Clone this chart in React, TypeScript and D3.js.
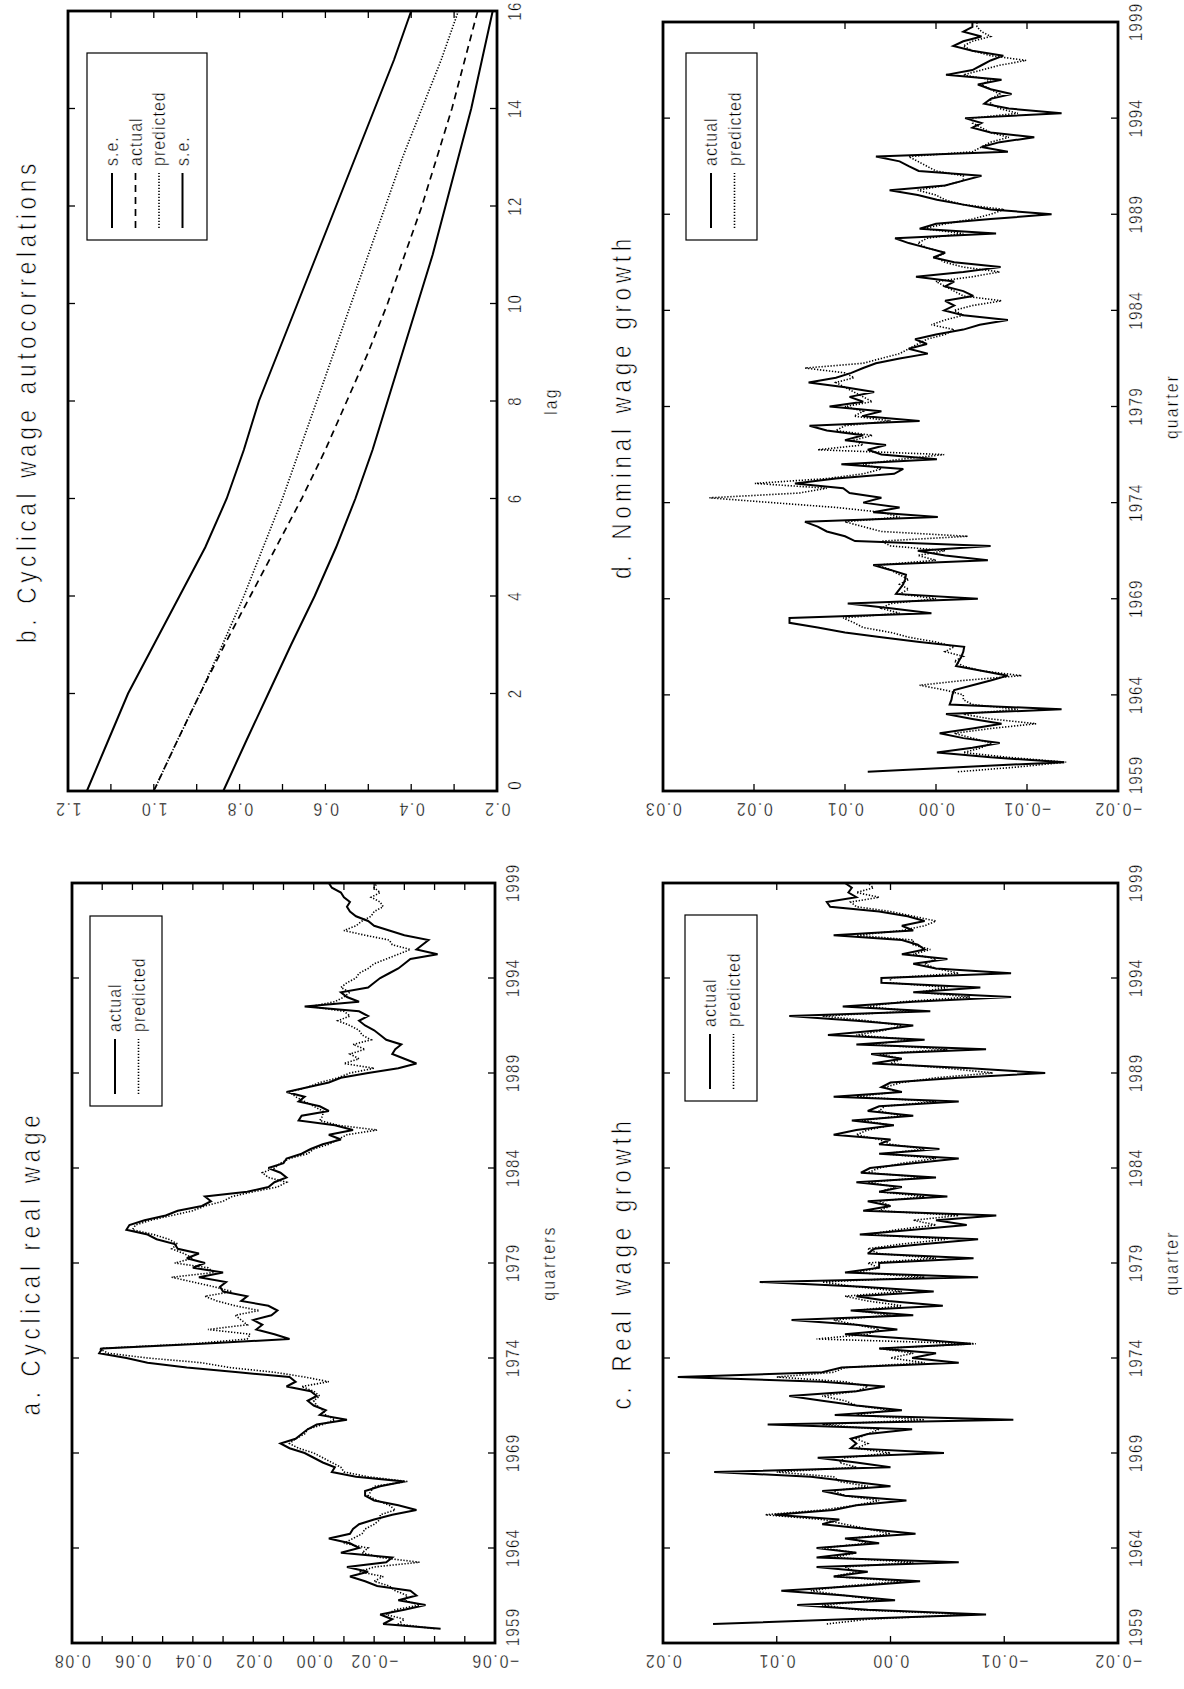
import React from "react";
import * as d3 from "d3";

// ---------- data ----------
// a. cyclical real wage, quarterly from 1959.75
const aActual = [
  -0.042,
  -0.023, -0.026, -0.022, -0.03,
  -0.037, -0.028, -0.034, -0.032,
  -0.021, -0.017, -0.012, -0.018,
  -0.011, -0.024, -0.026, -0.009,
  -0.015, -0.012, -0.005, -0.012,
  -0.013, -0.015, -0.02, -0.026,
  -0.034, -0.028, -0.02, -0.017,
  -0.017, -0.022, -0.03, -0.014,
  -0.006, -0.007, -0.003, 0.0,
  0.003, 0.008, 0.011, 0.006,
  0.004, 0.002, -0.001, -0.011,
  -0.002, -0.004, 0.0, 0.002,
  -0.001, 0.001, 0.009, 0.006,
  0.008, 0.025, 0.042, 0.055,
  0.062, 0.071, 0.07, 0.037,
  0.008, 0.013, 0.019, 0.017,
  0.02, 0.014, 0.012, 0.015,
  0.024, 0.022, 0.03, 0.031,
  0.029, 0.038, 0.03, 0.04,
  0.036, 0.042, 0.038, 0.045,
  0.046, 0.052, 0.055, 0.062,
  0.061, 0.056, 0.049, 0.045,
  0.037, 0.034, 0.036, 0.022,
  0.015, 0.013, 0.009, 0.011,
  0.015, 0.01, 0.009, 0.004,
  0.001, -0.003, -0.009, -0.005,
  -0.013, -0.007, 0.005, 0.004,
  -0.005, -0.002, 0.005, 0.003,
  0.009, 0.002, -0.005, -0.009,
  -0.018, -0.028, -0.034, -0.03,
  -0.026, -0.027, -0.029, -0.024,
  -0.022, -0.02, -0.017, -0.015,
  -0.018, -0.015, 0.003, -0.015,
  -0.011, -0.009, -0.018, -0.02,
  -0.022, -0.025, -0.028, -0.03,
  -0.032, -0.041, -0.034, -0.036,
  -0.038, -0.03, -0.025, -0.02,
  -0.018, -0.014, -0.012, -0.011,
  -0.012, -0.01, -0.009, -0.006,
  -0.005,
];
const aPredicted = [
  -0.04,
  -0.028, -0.03, -0.024, -0.027,
  -0.035, -0.03, -0.031, -0.027,
  -0.025, -0.02, -0.023, -0.015,
  -0.02, -0.035, -0.022, -0.016,
  -0.018, -0.01, -0.013, -0.016,
  -0.017, -0.02, -0.022, -0.022,
  -0.027, -0.025, -0.021, -0.018,
  -0.019, -0.02, -0.031, -0.018,
  -0.01, -0.009, -0.006, -0.003,
  0.0, 0.005, 0.008, 0.006,
  0.003, 0.002, -0.003, -0.007,
  -0.004, -0.003, -0.001, 0.0,
  -0.002, 0.0, 0.004, -0.005,
  0.003, 0.013, 0.028, 0.037,
  0.055, 0.068, 0.071, 0.04,
  0.022, 0.021, 0.035, 0.022,
  0.024, 0.026, 0.018, 0.026,
  0.032, 0.036, 0.027, 0.033,
  0.04, 0.047, 0.033, 0.035,
  0.046, 0.04, 0.043, 0.047,
  0.045, 0.048, 0.053, 0.06,
  0.059, 0.054, 0.047, 0.04,
  0.036, 0.03, 0.027, 0.02,
  0.012, 0.009, 0.015, 0.017,
  0.013, 0.011, 0.008, 0.002,
  0.0, -0.005, -0.008, -0.011,
  -0.021, -0.008, -0.002, -0.003,
  -0.003, 0.0, 0.003, 0.006,
  0.008, 0.002, -0.002, -0.008,
  -0.012, -0.02, -0.01, -0.015,
  -0.012, -0.017, -0.013, -0.019,
  -0.016, -0.015, -0.012, -0.008,
  -0.012, -0.01, 0.001, -0.007,
  -0.01, -0.012, -0.009, -0.011,
  -0.014, -0.015, -0.018, -0.02,
  -0.024, -0.028, -0.032, -0.026,
  -0.025, -0.017, -0.01, -0.014,
  -0.016, -0.019, -0.02, -0.023,
  -0.022, -0.019, -0.022, -0.02,
  -0.021,
];

// c. real wage growth, quarterly from 1960.0
const cActual = [
  0.0156, 0.004, -0.0084, 0.002,
  0.0082, -0.0004, 0.004, 0.0096,
  0.003, -0.0026, 0.005, 0.002,
  0.0065, -0.006, 0.0065, 0.003,
  0.0065, 0.001, 0.004, -0.0022,
  0.002, 0.006, 0.0045, 0.0102,
  0.005, 0.003, -0.0014, 0.004,
  0.006, 0.0, 0.0035, 0.007,
  0.0155, 0.0, 0.003, 0.0064,
  -0.0047, 0.0035, 0.003, 0.0035,
  0.002, -0.0019, 0.0108, -0.0108,
  0.0049, -0.001, 0.003, 0.006,
  0.0089, 0.003, 0.0005, 0.006,
  0.0187, 0.006, 0.0043, -0.006,
  -0.0019, -0.004, 0.001, -0.0071,
  -0.002, 0.004, -0.0006, 0.003,
  0.0087, -0.002, 0.0035, -0.0046,
  0.0002, 0.003, -0.0038, 0.0025,
  0.0115, -0.0077, 0.004, 0.001,
  0.001, -0.0073, 0.002, 0.0014,
  -0.003, -0.0077, 0.0027, -0.002,
  -0.0067, -0.004, -0.0093, 0.0024,
  0.0, 0.002, -0.005, 0.001,
  -0.001, 0.003, -0.004, 0.0026,
  0.0018, -0.002, -0.006, 0.001,
  -0.0043, 0.001, 0.0, 0.005,
  0.003, -0.0003, 0.0034, -0.002,
  0.002, 0.001, -0.006, 0.005,
  -0.001, 0.0008, 0.0, -0.006,
  -0.0136, -0.007, 0.0016, -0.001,
  0.0017, -0.0084, 0.003, -0.003,
  0.0055, 0.001, -0.002, 0.003,
  0.0089, -0.0035, 0.0042, -0.002,
  -0.0106, -0.002, -0.0079, 0.0008,
  0.0008, -0.0106, -0.004, -0.002,
  -0.005, -0.001, -0.003, -0.0024,
  -0.001, 0.005, -0.002, -0.001,
  -0.003, -0.0015, 0.001, 0.0053,
  0.0056, 0.003, 0.0037, 0.0034,
  0.004,
];
const cPredicted = [
  0.0056, 0.002, -0.007, 0.003,
  0.006, 0.001, 0.004, 0.007,
  0.004, -0.001, 0.005, 0.003,
  0.004, -0.002, 0.005, 0.003,
  0.006, 0.002, 0.0035, 0.0,
  0.002, 0.004, 0.006, 0.011,
  0.006, 0.003, 0.001, 0.004,
  0.005, 0.002, 0.0045, 0.005,
  0.01, 0.003, 0.0045, 0.004,
  0.0, 0.003, 0.002, 0.003,
  0.002, 0.001, 0.006, -0.003,
  0.003, 0.0, 0.003, 0.004,
  0.006, 0.003, 0.002, 0.004,
  0.01, 0.005, 0.004, -0.003,
  0.0, -0.002, 0.001, -0.0075,
  0.0065, 0.002, 0.001, 0.003,
  0.005, 0.0, 0.003, -0.001,
  0.002, 0.004, -0.001, 0.003,
  0.006, -0.003, 0.003, 0.001,
  0.002, -0.004, 0.001, 0.002,
  -0.001, -0.005, 0.002, -0.0005,
  -0.004, -0.002, -0.006, 0.001,
  0.0, 0.001, -0.003, 0.001,
  -0.0005, 0.002, -0.003, 0.002,
  0.001, -0.001, -0.004, 0.0005,
  -0.003, 0.0, 0.001, 0.003,
  0.002, 0.0, 0.0025, -0.001,
  0.001, 0.0005, -0.004, 0.003,
  -0.0005, 0.0005, -0.001, -0.004,
  -0.009, -0.005, 0.0, -0.001,
  0.001, -0.005, 0.002, -0.002,
  0.003, 0.0005, -0.001, 0.002,
  0.006, -0.002, 0.002, -0.001,
  -0.007, -0.0025, -0.005, 0.0,
  0.0, -0.006, -0.004, -0.003,
  -0.004, -0.002, -0.0035, -0.002,
  -0.002, 0.003, -0.001, -0.003,
  -0.004, -0.002, 0.0, 0.003,
  0.0035, 0.001, 0.003, 0.0015,
  0.002,
];

// d. nominal wage growth, quarterly from 1960.0
const dActual = [
  0.0075, -0.003, -0.0141, -0.006,
  -0.0001, -0.004, -0.007, -0.003,
  -0.0004, -0.004, -0.0072, -0.004,
  -0.0011, -0.0138, -0.0015, -0.0017,
  -0.0018, -0.002, -0.004, -0.006,
  -0.0079, -0.005, -0.0022, -0.0025,
  -0.0028, -0.003, -0.0031, 0.0018,
  0.006, 0.01, 0.013, 0.0161,
  0.0161, 0.0005, 0.005, 0.0097,
  -0.0046, 0.0044, 0.004, 0.0036,
  0.0034, 0.0033, 0.005, 0.0069,
  -0.0057, -0.001, 0.002, -0.006,
  0.0089, 0.01, 0.012, 0.013,
  0.0144, -0.0002, 0.0069, 0.004,
  0.008, 0.006, 0.0095, 0.0102,
  0.0155, 0.011, 0.0046, 0.0036,
  0.0104, -0.0001, 0.006, 0.0075,
  0.0055, 0.01, 0.008, 0.012,
  0.0139, 0.0018, 0.0081, 0.006,
  0.0117, 0.008, 0.0095, 0.0068,
  0.01, 0.014, 0.011, 0.0093,
  0.008, 0.0066, 0.004, 0.0009,
  0.003, 0.001, 0.0023, 0.0,
  -0.003, -0.0048, -0.0079, -0.003,
  -0.0009, -0.002, -0.001, -0.0041,
  -0.003, -0.001, -0.002, 0.0022,
  -0.003, -0.0071, -0.002, 0.0003,
  -0.001, 0.001, 0.003, 0.0045,
  -0.0066, 0.0018, 0.0, -0.006,
  -0.0127, -0.006, -0.003, -0.0001,
  0.002, 0.0051, -0.001, -0.003,
  -0.005, 0.0019, 0.003, 0.004,
  0.0066, -0.0079, -0.005, -0.007,
  -0.0108, -0.006, -0.004, -0.005,
  -0.0032, -0.0138, -0.008, -0.0053,
  -0.006, -0.0083, -0.006, -0.0046,
  -0.0072, -0.0011, -0.004, -0.005,
  -0.006, -0.0074, -0.004, -0.0019,
  -0.003, -0.005, -0.003, -0.004,
  -0.004,
];
const dPredicted = [
  -0.0024, -0.009, -0.0143, -0.008,
  -0.003, -0.005, -0.006, -0.004,
  -0.002, -0.006, -0.011, -0.006,
  -0.003, -0.009, -0.004, -0.003,
  -0.003, -0.001, 0.0018, -0.003,
  -0.0094, -0.005, -0.003, -0.002,
  -0.003, -0.001, -0.002, 0.0,
  0.003, 0.005, 0.008, 0.009,
  0.0102, 0.004, 0.006, 0.005,
  0.0, 0.004, 0.003, 0.004,
  0.003, 0.004, 0.005, 0.0064,
  0.0, 0.002, -0.001, 0.005,
  0.006, -0.0035, 0.006, 0.008,
  0.01, 0.004, 0.006, 0.011,
  0.018, 0.0249, 0.015, 0.012,
  0.0199, 0.012, 0.008, 0.006,
  0.008, 0.004, -0.0009, 0.013,
  0.008, 0.009, 0.007, 0.011,
  0.01, 0.005, 0.009, 0.008,
  0.01, 0.007, 0.008, 0.009,
  0.01, 0.011, 0.009, 0.01,
  0.0144, 0.008, 0.006, 0.004,
  0.003, 0.002, 0.001, -0.001,
  -0.002, 0.0005, -0.001, -0.003,
  -0.002, -0.004, -0.0072, -0.003,
  -0.002, -0.001, 0.0, -0.004,
  -0.007, -0.003, -0.001, 0.0,
  -0.001, 0.001, 0.002, 0.001,
  -0.003, 0.0014, -0.001, -0.004,
  -0.006, -0.0075, -0.003, -0.001,
  0.0, 0.002, -0.001, -0.003,
  -0.003, 0.0, 0.001, 0.002,
  0.003, -0.004, -0.005, -0.006,
  -0.008, -0.006, -0.005, -0.004,
  -0.004, -0.009, -0.007, -0.006,
  -0.006, -0.007, -0.006, -0.005,
  -0.006, -0.003, -0.005, -0.007,
  -0.0099, -0.006, -0.004, -0.003,
  -0.004, -0.006, -0.005, -0.0045,
  -0.0045,
];

// b. autocorrelations by lag 0..16
const lags = d3.range(0, 17);
const acfUpperSE = [1.156, 1.108, 1.06, 1.0, 0.94, 0.88, 0.83, 0.79, 0.755, 0.71, 0.665, 0.62, 0.575, 0.53, 0.485, 0.44, 0.4];
const acfActual = [1.0, 0.947, 0.892, 0.835, 0.775, 0.715, 0.655, 0.6, 0.55, 0.5, 0.455, 0.415, 0.375, 0.34, 0.305, 0.275, 0.245];
const acfPredicted = [1.0, 0.947, 0.892, 0.84, 0.79, 0.745, 0.7, 0.66, 0.62, 0.58, 0.54, 0.5, 0.46, 0.42, 0.375, 0.33, 0.29];
const acfLowerSE = [0.838, 0.786, 0.733, 0.68, 0.625, 0.575, 0.53, 0.49, 0.455, 0.42, 0.385, 0.35, 0.32, 0.29, 0.26, 0.235, 0.21];

const yearTicks = d3.range(1959, 2000, 5);
const lagTicks = d3.range(0, 17, 2);

// ---------- drawing ----------
const FONT = "'Liberation Sans', 'DejaVu Sans', Arial, sans-serif";
const INK = "#000";

type Kind = "solid" | "dashed" | "dotted";
const STROKE: Record<Kind, { w: number; dash?: string }> = {
  solid: { w: 2 },
  dashed: { w: 1.7, dash: "7 5" },
  dotted: { w: 1.6, dash: "1.3 1.7" },
};

const quarterly = (start: number, vals: number[]): [number, number][] =>
  vals.map((v, i) => [start + i * 0.25, v]);

// rotated text; a thin white outline keeps the glyphs light like the plotter font
function Txt({ x, y, rot, size, ls = 0, sx = 0.84, anchor = "middle", thin = 0.4, children }: any) {
  return (
    <text
      transform={`translate(${x},${y}) rotate(${rot}) scale(${sx},1)`}
      textAnchor={anchor}
      dominantBaseline="central"
      fontFamily={FONT}
      fontSize={size}
      letterSpacing={ls}
      fill={INK}
      stroke="#fff"
      strokeWidth={thin}
    >
      {children}
    </text>
  );
}

type Box = { x0: number; y0: number; x1: number; y1: number };

function Panel(p: {
  box: Box;
  vDomain: [number, number];
  vTicks: number[];
  vLabels: number[];
  vFmt: (n: number) => string;
  tDomain: [number, number];
  tTicks: number[];
  tFmt: (n: number) => string;
  firstShift: number;
  series: { pts: [number, number][]; kind: Kind }[];
  title: string;
  axisLabel: string;
  legend: { box: Box; entries: { label: string; kind: Kind }[] };
}) {
  const { x0, y0, x1, y1 } = p.box;
  const xs = d3.scaleLinear().domain(p.vDomain).range([x0, x1]);
  const ys = d3.scaleLinear().domain(p.tDomain).range([y1, y0]);
  const line = d3
    .line<[number, number]>()
    .x((d) => xs(d[1]))
    .y((d) => ys(d[0]));
  const tl = 7;
  const cy = (y0 + y1) / 2;
  const lg = p.legend.box;
  return (
    <g>
      {p.series.map((s, i) => (
        <path
          key={i}
          d={line(s.pts) || ""}
          fill="none"
          stroke={INK}
          strokeWidth={STROKE[s.kind].w}
          strokeDasharray={STROKE[s.kind].dash}
          strokeLinejoin="miter"
          strokeMiterlimit={3}
        />
      ))}
      {p.vTicks.map((v, i) => (
        <g key={"v" + i} stroke={INK} strokeWidth={1.3}>
          <line x1={xs(v)} x2={xs(v)} y1={y0} y2={y0 + tl} />
          <line x1={xs(v)} x2={xs(v)} y1={y1} y2={y1 - tl} />
        </g>
      ))}
      {p.tTicks.map((t, i) => (
        <g key={"t" + i} stroke={INK} strokeWidth={1.3}>
          <line x1={x0} x2={x0 + tl} y1={ys(t)} y2={ys(t)} />
          <line x1={x1} x2={x1 - tl} y1={ys(t)} y2={ys(t)} />
        </g>
      ))}
      <rect x={x0} y={y0} width={x1 - x0} height={y1 - y0} fill="none" stroke={INK} strokeWidth={2.8} />
      {p.vLabels.map((v, i) => (
        <Txt key={"vl" + i} x={xs(v)} y={y1 + 18} rot={180} size={19} ls={2}>
          {p.vFmt(v)}
        </Txt>
      ))}
      {p.tTicks.map((t, i) => (
        <Txt key={"tl" + i} x={x1 + 18} y={ys(t) - (i === 0 ? p.firstShift : 0)} rot={-90} size={18} ls={1.5}>
          {p.tFmt(t)}
        </Txt>
      ))}
      <Txt x={x1 + 54} y={cy} rot={-90} size={19} ls={2.5}>
        {p.axisLabel}
      </Txt>
      <Txt x={x0 - 42} y={cy} rot={-90} size={27} ls={5.5} thin={0.7}>
        {p.title}
      </Txt>
      <rect x={lg.x0} y={lg.y0} width={lg.x1 - lg.x0} height={lg.y1 - lg.y0} fill="#fff" stroke={INK} strokeWidth={1.2} />
      {p.legend.entries.map((e, i) => {
        const x = lg.x0 + 25 + i * 23.5;
        return (
          <g key={"lg" + i}>
            <line
              x1={x}
              x2={x}
              y1={lg.y1 - 12}
              y2={lg.y1 - 67}
              stroke={INK}
              strokeWidth={STROKE[e.kind].w}
              strokeDasharray={STROKE[e.kind].dash}
            />
            <Txt x={x} y={lg.y1 - 74} rot={-90} size={19} ls={1.2} anchor="start">
              {e.label}
            </Txt>
          </g>
        );
      })}
    </g>
  );
}

const fmt2 = d3.format(".2f");
const fmt1 = d3.format(".1f");
const fmtYear = (n: number) => String(n);
const fmtLag = (n: number) => String(n);

export default function App() {
  const actualPred = [
    { label: "actual", kind: "solid" as Kind },
    { label: "predicted", kind: "dotted" as Kind },
  ];
  return (
    <svg
      width={1184}
      height={1689}
      viewBox="0 0 1184 1689"
      style={{ position: "absolute", left: 0, top: 0, background: "#fff" }}
    >
      <rect width={1184} height={1689} fill="#fff" />
      <Panel
        box={{ x0: 68, y0: 11, x1: 497, y1: 791 }}
        vDomain={[1.2, 0.2]}
        vTicks={[1.2, 1.1, 1.0, 0.9, 0.8, 0.7, 0.6, 0.5, 0.4, 0.3, 0.2]}
        vLabels={[1.2, 1.0, 0.8, 0.6, 0.4, 0.2]}
        vFmt={fmt1}
        tDomain={[0, 16]}
        tTicks={lagTicks}
        tFmt={fmtLag}
        firstShift={6}
        series={[
          { pts: lags.map((l, i) => [l, acfUpperSE[i]] as [number, number]), kind: "solid" },
          { pts: lags.map((l, i) => [l, acfActual[i]] as [number, number]), kind: "dashed" },
          { pts: lags.map((l, i) => [l, acfPredicted[i]] as [number, number]), kind: "dotted" },
          { pts: lags.map((l, i) => [l, acfLowerSE[i]] as [number, number]), kind: "solid" },
        ]}
        title="b. Cyclical wage autocorrelations"
        axisLabel="lag"
        legend={{
          box: { x0: 87, y0: 53, x1: 207, y1: 240 },
          entries: [
            { label: "s.e.", kind: "solid" },
            { label: "actual", kind: "dashed" },
            { label: "predicted", kind: "dotted" },
            { label: "s.e.", kind: "solid" },
          ],
        }}
      />
      <Panel
        box={{ x0: 663, y0: 22, x1: 1118, y1: 791 }}
        vDomain={[0.03, -0.02]}
        vTicks={[0.03, 0.02, 0.01, 0, -0.01, -0.02]}
        vLabels={[0.03, 0.02, 0.01, 0, -0.01, -0.02]}
        vFmt={fmt2}
        tDomain={[1959, 1999]}
        tTicks={yearTicks}
        tFmt={fmtYear}
        firstShift={16}
        series={[
          { pts: quarterly(1960, dPredicted), kind: "dotted" },
          { pts: quarterly(1960, dActual), kind: "solid" },
        ]}
        title="d. Nominal wage growth"
        axisLabel="quarter"
        legend={{ box: { x0: 686, y0: 53, x1: 757, y1: 240 }, entries: actualPred }}
      />
      <Panel
        box={{ x0: 72, y0: 883, x1: 495, y1: 1643 }}
        vDomain={[0.08, -0.06]}
        vTicks={d3.range(-6, 9).map((k) => k / 100)}
        vLabels={[0.08, 0.06, 0.04, 0.02, 0, -0.02, -0.06]}
        vFmt={fmt2}
        tDomain={[1959, 1999]}
        tTicks={yearTicks}
        tFmt={fmtYear}
        firstShift={16}
        series={[
          { pts: quarterly(1959.75, aPredicted), kind: "dotted" },
          { pts: quarterly(1959.75, aActual), kind: "solid" },
        ]}
        title="a. Cyclical real wage"
        axisLabel="quarters"
        legend={{ box: { x0: 90, y0: 916, x1: 162, y1: 1106 }, entries: actualPred }}
      />
      <Panel
        box={{ x0: 663, y0: 883, x1: 1118, y1: 1643 }}
        vDomain={[0.02, -0.02]}
        vTicks={[0.02, 0.01, 0, -0.01, -0.02]}
        vLabels={[0.02, 0.01, 0, -0.01, -0.02]}
        vFmt={fmt2}
        tDomain={[1959, 1999]}
        tTicks={yearTicks}
        tFmt={fmtYear}
        firstShift={16}
        series={[
          { pts: quarterly(1960, cPredicted), kind: "dotted" },
          { pts: quarterly(1960, cActual), kind: "solid" },
        ]}
        title="c. Real wage growth"
        axisLabel="quarter"
        legend={{ box: { x0: 685, y0: 915, x1: 757, y1: 1101 }, entries: actualPred }}
      />
    </svg>
  );
}
